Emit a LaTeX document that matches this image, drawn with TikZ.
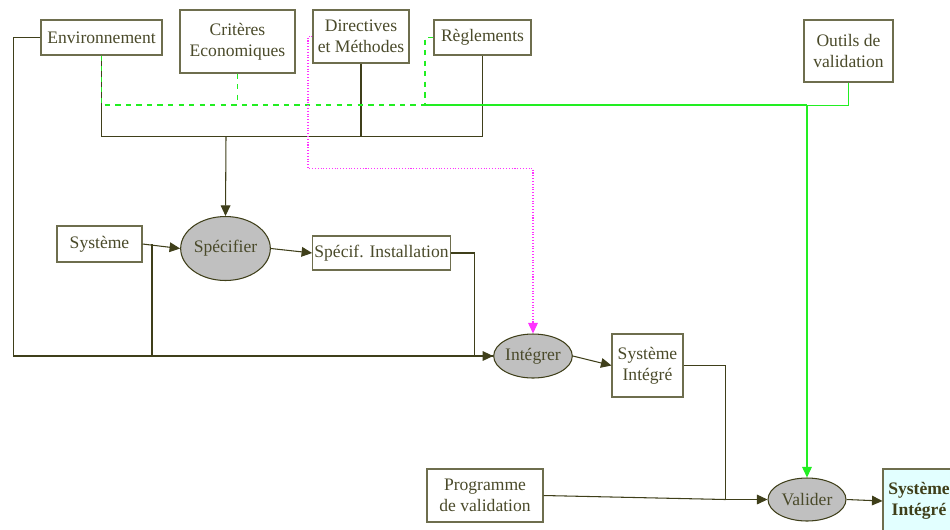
\documentclass[tikz,border=0pt]{standalone}
\usepackage{fontspec}
\setmainfont{Liberation Serif}
\usetikzlibrary{arrows.meta,shapes.geometric}
\definecolor{olive}{HTML}{3F3F1A}
\definecolor{boxline}{HTML}{6E6E4E}
\definecolor{txt}{HTML}{4A4A2A}
\definecolor{oval}{HTML}{C0C0C0}
\definecolor{lgreen}{HTML}{22EE22}
\definecolor{pink}{HTML}{FF33FF}
\definecolor{lcyan}{HTML}{E2FFFF}
\tikzset{> = {Triangle[length=6pt,width=5.5pt]}, every picture/.style={line width=0.6pt}}

\begin{document}
\begin{tikzpicture}[x=0.02cm,y=-0.02cm]
\useasboundingbox (0,0) rectangle (950,529);
\begin{scope}[every node/.style={draw=boxline,text=txt,align=center,inner sep=1pt}]
\node[minimum width=2.42cm,minimum height=0.70cm] (env) at (101.5,37.5) {Environnement};
\node[minimum width=2.30cm,minimum height=1.26cm] (crit) at (237.5,41.5) {Critères\\Economiques};
\node[minimum width=1.92cm,minimum height=1.06cm] (dir) at (361,36.5) {Directives\\et Méthodes};
\node[minimum width=1.94cm,minimum height=0.70cm] (regl) at (482.5,37.5) {Règlements};
\node[minimum width=1.78cm,minimum height=1.24cm] (outils) at (848.5,51) {Outils de\\validation};
\node[minimum width=1.70cm,minimum height=0.72cm] (sys) at (99.5,244) {Système};
\node[minimum width=2.74cm,minimum height=0.68cm] (specinst) at (381.5,253) {Spécif. Installation};
\node[minimum width=1.42cm,minimum height=1.26cm] (sysint) at (647.5,365.5) {Système\\Intégré};
\node[minimum width=2.32cm,minimum height=1.06cm] (prog) at (485,495.5) {Programme\\de validation};
\node[fill=lcyan,text=olive,font=\bfseries,minimum width=1.44cm,minimum height=1.28cm] (final) at (919,501) {Système\\Intégré};
\end{scope}

\begin{scope}[every node/.style={ellipse,draw=olive,fill=oval,text=txt,inner sep=0pt}]
\node[minimum width=1.42cm,minimum height=1.28cm] (spec) at (225.5,248.5) {Spécifier};
\node[minimum width=1.44cm,minimum height=0.88cm] (integ) at (533,356) {Intégrer};
\node[minimum width=1.56cm,minimum height=0.86cm] (valid) at (807,499.5) {Valider};
\end{scope}

\coordinate (bus) at (226,136);
\coordinate (gbus) at (425,105);
\coordinate (sysj) at (152,244);
\coordinate (mbend) at (308,168.5);

\begin{scope}[olive]
    \path [draw] (env.south) -- ++(0,81) -| (regl.south);
    \path [draw] (dir.south) -- (dir.south |- bus);
    \path [draw,->] (bus) -- (spec.north);
    \path [draw,->] (env.west) -- ++(-27,0) |- (integ.west);
    \path [draw,->] (sys.east) -- (spec.west);
    \path [draw] (sysj) -- (sysj |- integ.west);
    \path [draw,->] (spec.east) -- (specinst.west);
    \path [draw] (specinst.east) -- ++(24,0) |- (integ.west);
    \path [draw,->] (integ.east) -- (sysint.west);
    \path [draw,->] (sysint.east) -- ++(42,0) |- (valid.west);
    \path [draw] (prog.east) -- ++(182,4);
    \path [draw,->] (valid.east) -- (final.west);
\end{scope}

\begin{scope}[lgreen]
    \path [draw,->] (outils.south) -- ++(0,23) -| (valid.north);
    \path [draw] (gbus) -- (valid.north |- gbus);
    \path [draw,dashed] (env.south) |- (gbus);
    \path [draw,dashed] (crit.south) -- (crit.south |- gbus);
    \path [draw,dashed] (regl.west) -| (gbus);
\end{scope}

\path [draw,pink,densely dotted,->] (dir.west) -| (mbend) -| (integ.north);
\end{tikzpicture}
\end{document}
